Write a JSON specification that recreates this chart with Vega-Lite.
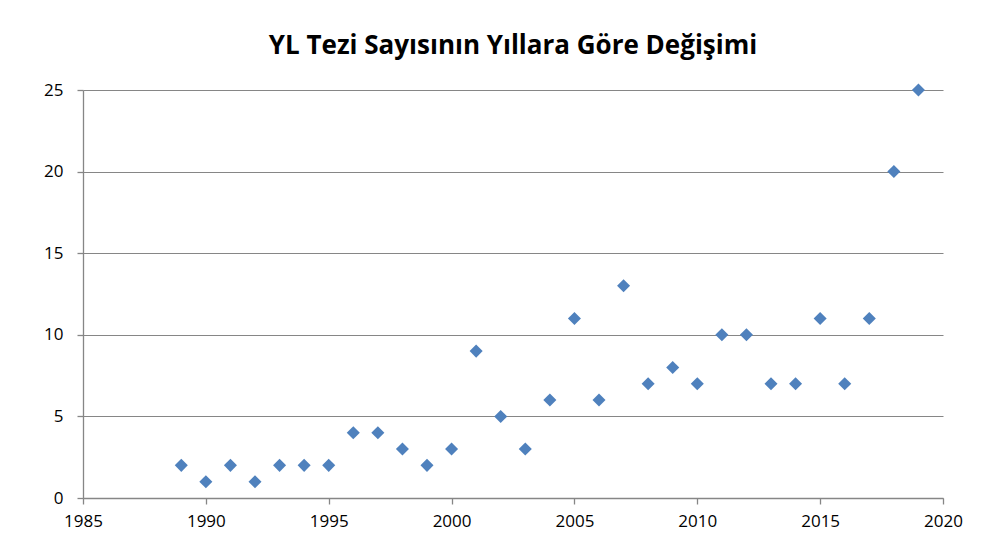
{
  "$schema": "https://vega.github.io/schema/vega-lite/v6.json",
  "width": 860,
  "height": 408,
  "autosize": "none",
  "padding": {"left": 83, "top": 90, "right": 55, "bottom": 54},
  "background": "white",
  "title": {
    "text": "YL Tezi Sayısının Yıllara Göre Değişimi",
    "font": "Open Sans",
    "fontSize": 26,
    "fontWeight": "bold",
    "color": "#000000",
    "anchor": "middle",
    "offset": 22
  },
  "data": {
    "values": [
      {"yil": 1989, "sayi": 2}, {"yil": 1990, "sayi": 1}, {"yil": 1991, "sayi": 2},
      {"yil": 1992, "sayi": 1}, {"yil": 1993, "sayi": 2}, {"yil": 1994, "sayi": 2},
      {"yil": 1995, "sayi": 2}, {"yil": 1996, "sayi": 4}, {"yil": 1997, "sayi": 4},
      {"yil": 1998, "sayi": 3}, {"yil": 1999, "sayi": 2}, {"yil": 2000, "sayi": 3},
      {"yil": 2001, "sayi": 9}, {"yil": 2002, "sayi": 5}, {"yil": 2003, "sayi": 3},
      {"yil": 2004, "sayi": 6}, {"yil": 2005, "sayi": 11}, {"yil": 2006, "sayi": 6},
      {"yil": 2007, "sayi": 13}, {"yil": 2008, "sayi": 7}, {"yil": 2009, "sayi": 8},
      {"yil": 2010, "sayi": 7}, {"yil": 2011, "sayi": 10}, {"yil": 2012, "sayi": 10},
      {"yil": 2013, "sayi": 7}, {"yil": 2014, "sayi": 7}, {"yil": 2015, "sayi": 11},
      {"yil": 2016, "sayi": 7}, {"yil": 2017, "sayi": 11}, {"yil": 2018, "sayi": 20},
      {"yil": 2019, "sayi": 25}
    ]
  },
  "mark": {"type": "point", "shape": "diamond", "filled": true, "size": 170, "color": "#4F81BD", "opacity": 1},
  "encoding": {
    "x": {
      "field": "yil", "type": "quantitative",
      "scale": {"domain": [1985, 2020], "nice": false, "zero": false},
      "axis": {
        "title": null, "values": [1985, 1990, 1995, 2000, 2005, 2010, 2015, 2020],
        "format": "d", "grid": false, "domain": true, "domainColor": "#868686",
        "tickColor": "#868686", "tickSize": 6, "labelPadding": 9,
        "labelFlush": false, "labelOverlap": false
      }
    },
    "y": {
      "field": "sayi", "type": "quantitative",
      "scale": {"domain": [0, 25], "nice": false},
      "axis": {
        "title": null, "values": [0, 5, 10, 15, 20, 25],
        "grid": true, "gridColor": "#868686", "domain": true, "domainColor": "#868686",
        "tickColor": "#868686", "tickSize": 6, "labelPadding": 14,
        "labelFlush": false, "labelOverlap": false
      }
    }
  },
  "config": {
    "view": {"stroke": null},
    "axis": {"labelFont": "Open Sans", "labelFontSize": 17, "labelColor": "#000000", "domainWidth": 1.3, "gridWidth": 1, "tickWidth": 1.3}
  }
}
